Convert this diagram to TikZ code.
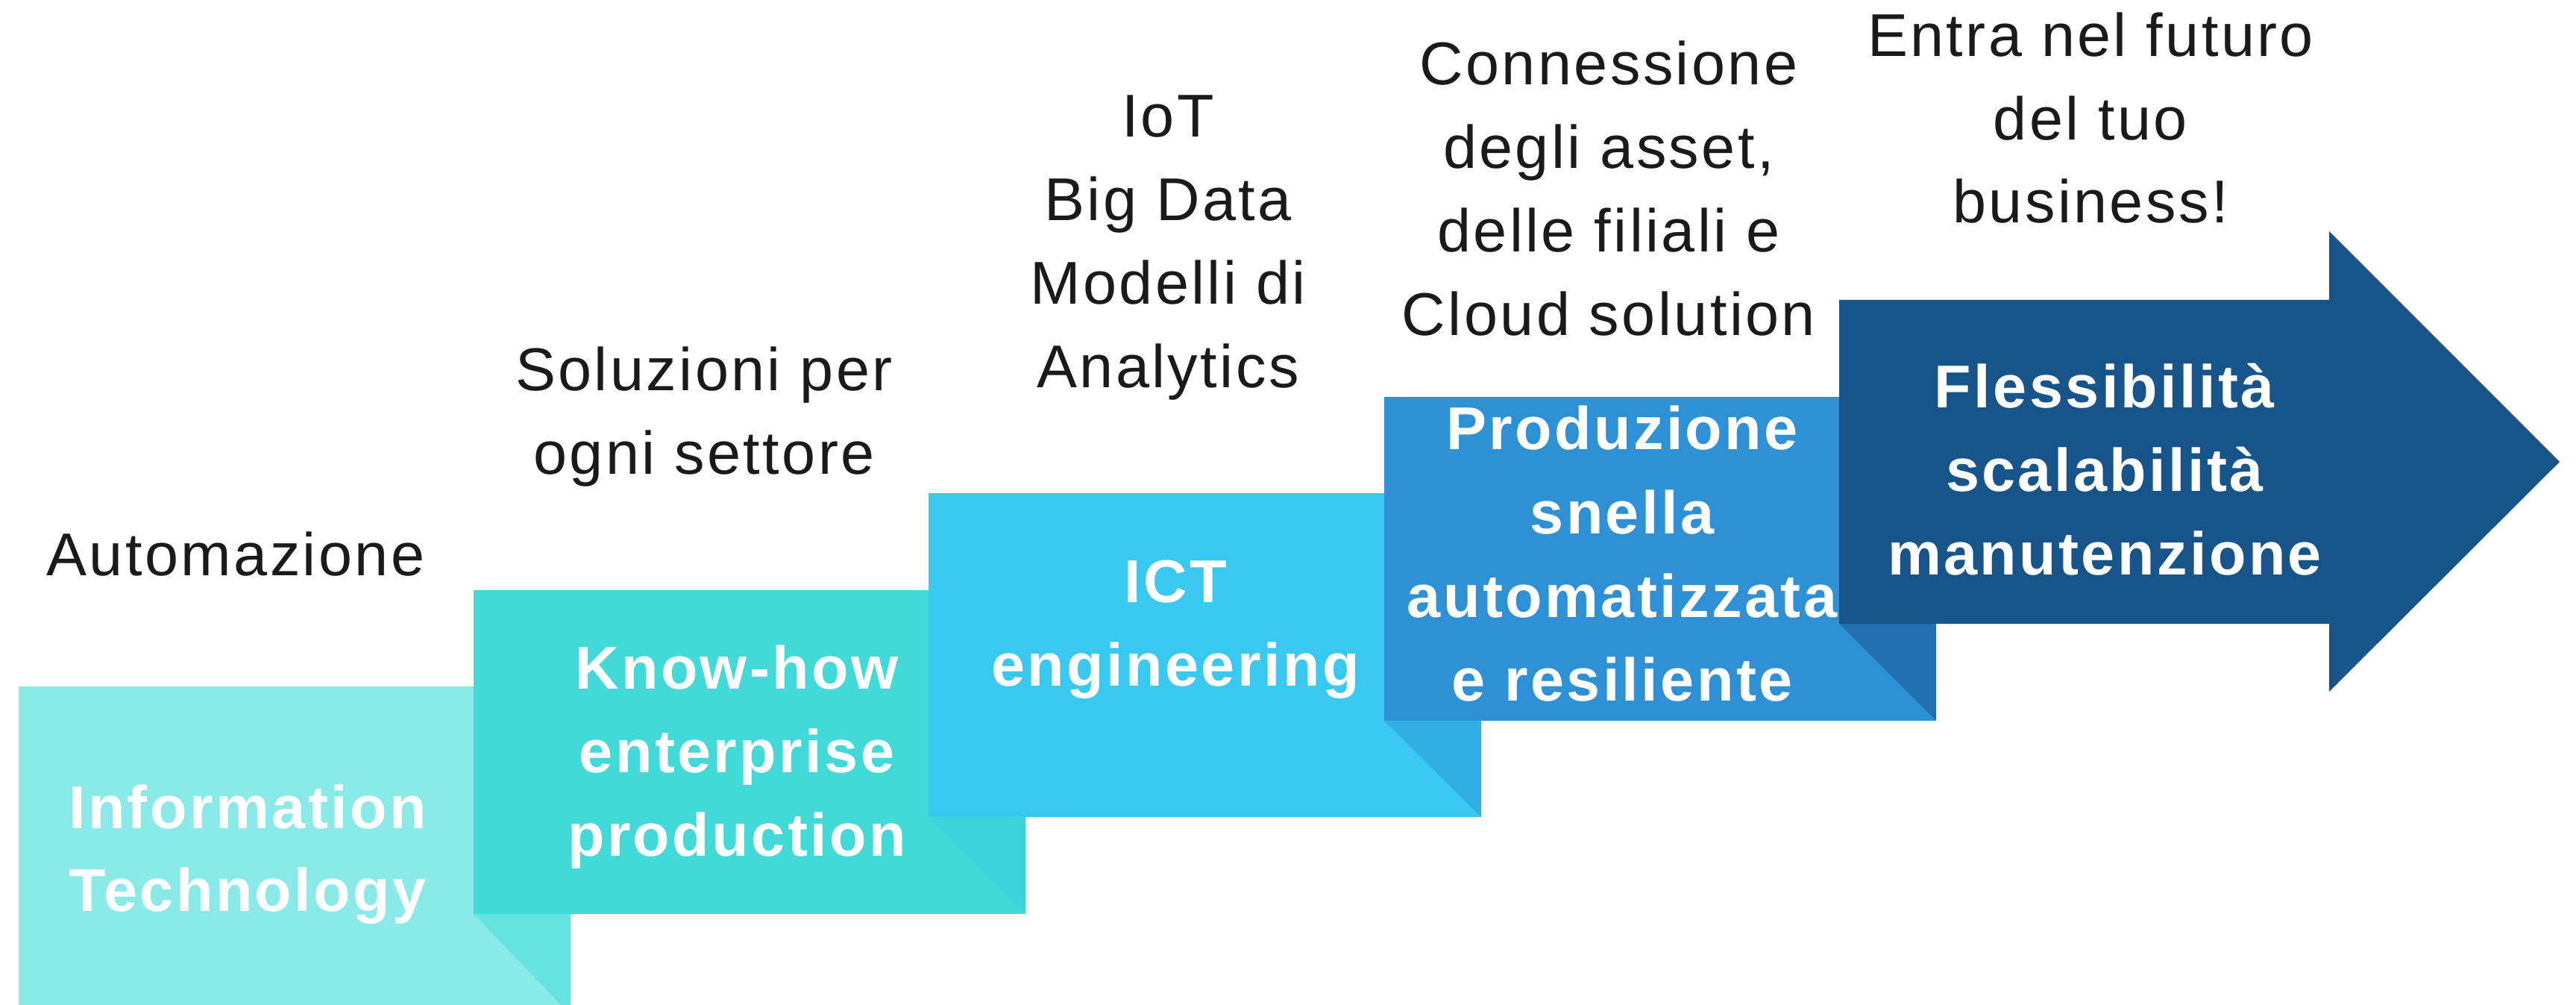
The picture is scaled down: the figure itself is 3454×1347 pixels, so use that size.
\documentclass[tikz,border=0pt]{standalone}
\usepackage{fontspec}
\setmainfont{Liberation Sans}[LetterSpace=4.2]
\definecolor{ink}{HTML}{1A1A1A}
\definecolor{boxa}{HTML}{8AEAE7}
\definecolor{folda}{HTML}{64E3E0}
\definecolor{boxb}{HTML}{41DAD8}
\definecolor{foldb}{HTML}{3DD3DD}
\definecolor{boxc}{HTML}{38C8F0}
\definecolor{foldc}{HTML}{33AEE2}
\definecolor{boxd}{HTML}{2E91D5}
\definecolor{foldd}{HTML}{2270B0}
\definecolor{boxe}{HTML}{16548A}
\begin{document}
\begin{tikzpicture}[x=0.5pt,y=-0.5pt,
  captext/.style={text=ink, font=\fontsize{40.5}{56}\selectfont, inner sep=0pt, anchor=base, xshift=1pt},
  whitelab/.style={text=white, font=\fontsize{40.5}{56}\selectfont\bfseries, inner sep=0pt, anchor=base, xshift=1pt}]
\clip (0,0) rectangle (3454,1347);
\fill[white] (0,0) rectangle (3454,1347);
% step 1
\fill[boxa] (25,920) rectangle (765,1360);
\fill[folda] (635,1225) -- (765,1225) -- (765,1360) -- cycle;
\foreach \t [count=\k] in {Information, Technology}
  \node[whitelab] (l1-\k) at (330,{1110+111*(\k-1)}) {\t};
% step 2
\fill[boxb] (635,791) rectangle (1375,1225);
\fill[foldb] (1245,1095) -- (1375,1095) -- (1375,1225) -- cycle;
\foreach \t [count=\k] in {Know-how, enterprise, production}
  \node[whitelab] (l2-\k) at (986,{923+112*(\k-1)}) {\t};
% step 3
\fill[boxc] (1245,661) rectangle (1986,1095);
\fill[foldc] (1856,966) -- (1986,966) -- (1986,1095) -- cycle;
\foreach \t [count=\k] in {ICT, engineering}
  \node[whitelab] (l3-\k) at (1574,{807+112*(\k-1)}) {\t};
% step 4
\fill[boxd] (1856,532) rectangle (2596,966);
\fill[foldd] (2466,836) -- (2596,836) -- (2596,966) -- cycle;
\foreach \t [count=\k] in {Produzione, snella, automatizzata, e resiliente}
  \node[whitelab] (l4-\k) at (2173,{603+112*(\k-1)}) {\t};
% step 5 (arrow)
\fill[boxe] (2466,402) -- (3123,402) -- (3123,310) -- (3432,619) -- (3123,927) -- (3123,836) -- (2466,836) -- cycle;
\foreach \t [count=\k] in {Flessibilità, scalabilità, manutenzione}
  \node[whitelab] (l5-\k) at (2820,{547+111.5*(\k-1)}) {\t};
% captions
\node[captext] (c1-1) at (314,771) {Automazione};
\foreach \t [count=\k] in {Soluzioni per, ogni settore}
  \node[captext] (c2-\k) at (942,{524+112*(\k-1)}) {\t};
\foreach \t [count=\k] in {IoT, Big Data, Modelli di, Analytics}
  \node[captext] (c3-\k) at (1564,{184+111.7*(\k-1)}) {\t};
\foreach \t [count=\k] in {Connessione, {degli asset,}, delle filiali e, Cloud solution}
  \node[captext] (c4-\k) at (2155,{114+111.7*(\k-1)}) {\t};
\foreach \t [count=\k] in {Entra nel futuro, del tuo, business!}
  \node[captext] (c5-\k) at (2801,{76+111.5*(\k-1)}) {\t};
\end{tikzpicture}
\end{document}
